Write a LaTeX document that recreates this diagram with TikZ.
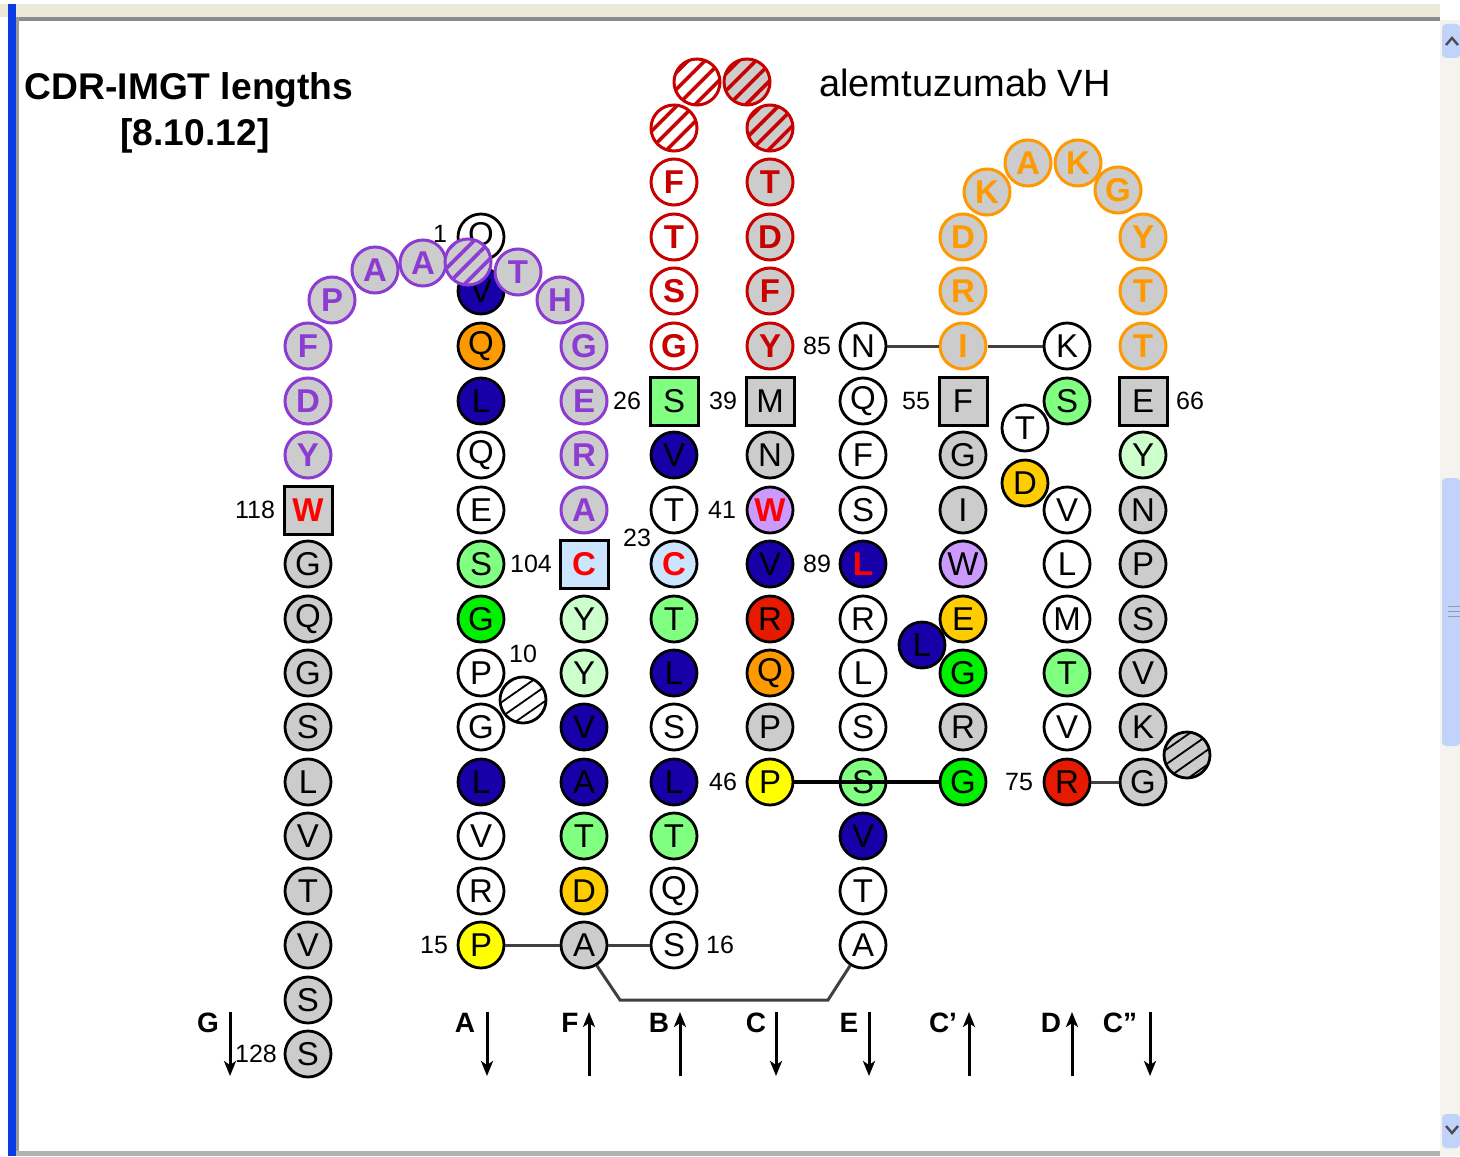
\documentclass[tikz,border=0pt]{standalone}
\usepackage{fontspec}
\setmainfont{Liberation Sans}
\usetikzlibrary{arrows.meta,patterns.meta}
\definecolor{cgray}{HTML}{CCCCCC}
\definecolor{cblue}{HTML}{1800A8}
\definecolor{corange}{HTML}{FF9900}
\definecolor{cyellow}{HTML}{FFFF00}
\definecolor{cdyellow}{HTML}{FFCC00}
\definecolor{clgreen}{HTML}{80FF80}
\definecolor{cbgreen}{HTML}{00F000}
\definecolor{cpgreen}{HTML}{CCFFCC}
\definecolor{clblue}{HTML}{CCE5FF}
\definecolor{clilac}{HTML}{CC99FF}
\definecolor{cred}{HTML}{E61A00}
\definecolor{cdrone}{HTML}{C80000}
\definecolor{cdrtwo}{HTML}{FF9900}
\definecolor{cdrthree}{HTML}{8C3CD2}
\definecolor{txtred}{HTML}{FF0000}
\definecolor{winbeige}{HTML}{ECE9D8}
\definecolor{winblue}{HTML}{0A3CE6}
\definecolor{scrollbg}{HTML}{F4F3EE}
\definecolor{scrollbtn}{HTML}{C1D3FB}
\newcommand{\redaa}[1]{\textcolor{txtred}{\bfseries #1}}
\begin{document}
\begin{tikzpicture}[x=0.5pt,y=-0.5pt,
  lf/.style={font=\fontsize{16.5}{16.5}\selectfont},
  res/.style={circle,draw=black,line width=1.4pt,minimum size=23pt,inner sep=0pt,lf},
  sq/.style={rectangle,draw=black,line width=1.5pt,minimum size=24pt,inner sep=0pt,fill=cgray,lf},
  cdrbase/.style={res,line width=1.5pt,font=\fontsize{16.5}{16.5}\selectfont\bfseries},
  cdra/.style={cdrbase,draw=cdrone,text=cdrone,fill=#1},
  cdrb/.style={cdrbase,draw=cdrtwo,text=cdrtwo,fill=cgray},
  cdrc/.style={cdrbase,draw=cdrthree,text=cdrthree,fill=cgray},
  hatch/.style n args={3}{res,draw=#1,line width=1.5pt,preaction={fill=#2},pattern={Lines[angle=45,distance=6pt,line width=1.8pt]},pattern color=#3},
  bhatch/.style={res,preaction={fill=#1},pattern={Lines[angle=35,distance=6pt,line width=0.9pt]},pattern color=black},
  num/.style={font=\fontsize{12.5}{12.5}\selectfont,inner sep=0pt},
  strand/.style={font=\fontsize{14}{14}\selectfont\bfseries,inner sep=0pt},
  lnk/.style={line width=1.5pt,draw=black!75},
  arr/.style={line width=1.5pt,-{Stealth[length=7.5pt,width=6pt,inset=2pt]}},
]
\useasboundingbox (0,0) rectangle (1460,1156);
% window frame
\fill[white] (0,0) rectangle (1460,1156);
\fill[winbeige] (0,4) rectangle (1440,17);
\fill[black!45] (16,17) rectangle (1440,21);
\fill[winblue] (8,4) rectangle (16,1156);
\fill[black!40] (16,17) rectangle (19,1156);
\fill[black!30] (16,1151) rectangle (1440,1156);
\fill[scrollbg] (1440,20) rectangle (1460,1156);
\fill[scrollbtn,rounded corners=2pt] (1442,24) rectangle (1460,58);
\fill[scrollbtn,rounded corners=2pt] (1442,478) rectangle (1460,746);
\fill[scrollbtn,rounded corners=2pt] (1442,1114) rectangle (1460,1148);
\draw[black!70,line width=1.2pt] (1446,45) -- (1452,38) -- (1458,45);
\draw[black!70,line width=1.2pt] (1446,1126) -- (1452,1133) -- (1458,1126);
\draw[black!40] (1448,606) -- (1460,606) (1448,611) -- (1460,611) (1448,616) -- (1460,616);

% titles
\node[anchor=base,font=\fontsize{18.6}{20}\selectfont\bfseries] (title1) at (189,100) {CDR-IMGT lengths};
\node[anchor=base,font=\fontsize{18.6}{20}\selectfont\bfseries] (title2) at (195,145) {[8.10.12]};
\node[anchor=base,font=\fontsize{19}{20}\selectfont] (name) at (965,97) {alemtuzumab VH};

\node[num] (n1) at (440,234) {1};

% A strand
\foreach \y/\l/\f [count=\i] in {237/Q/white,291/V/cblue,346/Q/corange,401/L/cblue,455/Q/white,510/E/white,564/S/clgreen,619/G/cbgreen,673/P/white,727/G/white,782/L/cblue,836/V/white,891/R/white,945/P/cyellow}
  \node[res,fill=\f] (A\i) at (481,\y) {\l};
\node[bhatch=white] (Ah) at (523,700) {};

% G strand
\node[sq] (G1) at (308,510) {\redaa{W}};
\foreach \y/\l [count=\i from 2] in {564/G,619/Q,673/G,727/S,782/L,836/V,891/T,945/V,1000/S,1054/S}
  \node[res,fill=cgray] (G\i) at (308,\y) {\l};

% F strand
\node[sq,fill=clblue] (F1) at (584,564) {\redaa{C}};
\foreach \y/\l/\f [count=\i from 2] in {619/Y/cpgreen,673/Y/cpgreen,727/V/cblue,782/A/cblue,836/T/clgreen,891/D/cdyellow,945/A/cgray}
  \node[res,fill=\f] (F\i) at (584,\y) {\l};

% B strand
\node[sq,fill=clgreen] (B1) at (674,401) {S};
\foreach \y/\l/\f [count=\i from 2] in {455/V/cblue,510/T/white,564/{\redaa{C}}/clblue,619/T/clgreen,673/L/cblue,727/S/white,782/L/cblue,836/T/clgreen,891/Q/white,945/S/white}
  \node[res,fill=\f] (B\i) at (674,\y) {\l};

% C strand
\node[sq] (C1) at (770,401) {M};
\foreach \y/\l/\f [count=\i from 2] in {455/N/cgray,510/{\redaa{W}}/clilac,564/V/cblue,619/R/cred,673/Q/corange,727/P/cgray,782/P/cyellow}
  \node[res,fill=\f] (C\i) at (770,\y) {\l};

% E strand
\foreach \y/\l/\f [count=\i] in {346/N/white,401/Q/white,455/F/white,510/S/white,564/{\redaa{L}}/cblue,619/R/white,673/L/white,727/S/white,782/S/clgreen,836/V/cblue,891/T/white,945/A/white}
  \node[res,fill=\f] (E\i) at (863,\y) {\l};

% C' strand
\node[res,fill=cblue] (Lx) at (922,645) {L};
\node[sq] (P1) at (963,401) {F};
\foreach \y/\l/\f [count=\i from 2] in {455/G/cgray,510/I/cgray,564/W/clilac,619/E/cdyellow,673/G/cbgreen,727/R/cgray,782/G/cbgreen}
  \node[res,fill=\f] (P\i) at (963,\y) {\l};

% D strand
\node[res] (D1) at (1067,346) {K};
\node[res,fill=clgreen] (D2) at (1067,401) {S};
\node[res] (D3) at (1025,428) {T};
\node[res,fill=cdyellow] (D4) at (1025,483) {D};
\foreach \y/\l/\f [count=\i from 5] in {510/V/white,564/L/white,619/M/white,673/T/clgreen,727/V/white,782/R/cred}
  \node[res,fill=\f] (D\i) at (1067,\y) {\l};

% C'' strand
\node[sq] (Q1) at (1143,401) {E};
\foreach \y/\l/\f [count=\i from 2] in {455/Y/cpgreen,510/N/cgray,564/P/cgray,619/S/cgray,673/V/cgray,727/K/cgray,782/G/cgray}
  \node[res,fill=\f] (Q\i) at (1143,\y) {\l};
\node[bhatch=cgray] (Qh) at (1187,755) {};

% CDR1
\foreach \y/\l [count=\i] in {346/G,291/S,237/T,182/F}
  \node[cdra=white] (R\i) at (674,\y) {\l};
\node[hatch={cdrone}{white}{cdrone}] (Rh1) at (674,128) {};
\node[hatch={cdrone}{white}{cdrone}] (Rh2) at (697,82) {};
\node[hatch={cdrone}{cgray}{cdrone}] (Rh3) at (747,82) {};
\node[hatch={cdrone}{cgray}{cdrone}] (Rh4) at (770,128) {};
\foreach \y/\l [count=\i from 5] in {182/T,237/D,291/F,346/Y}
  \node[cdra=cgray] (R\i) at (770,\y) {\l};

% CDR2
\foreach \x/\y/\l [count=\i] in {963/346/I,963/291/R,963/237/D,987/192/K,1028/163/A,1078/163/K,1118/190/G,1143/237/Y,1143/291/T,1143/346/T}
  \node[cdrb] (O\i) at (\x,\y) {\l};

% CDR3
\foreach \x/\y/\l [count=\i] in {308/346/F,308/401/D,308/455/Y,332/300/P,375/270/A,423/263/A}
  \node[cdrc] (V\i) at (\x,\y) {\l};
\node[hatch={cdrthree}{cgray}{cdrthree}] (V7) at (468,262) {};
\foreach \x/\y/\l [count=\i from 8] in {518/272/T,560/300/H,584/346/G,584/401/E,584/455/R,584/510/A}
  \node[cdrc] (V\i) at (\x,\y) {\l};

% position numbers
\node[num] (n118) at (255,510) {118};
\node[num] (n104) at (531,564) {104};
\node[num] (n10) at (523,654) {10};
\node[num] (n15) at (434,945) {15};
\node[num] (n26) at (627,401) {26};
\node[num] (n23) at (637,538) {23};
\node[num] (n16) at (720,945) {16};
\node[num] (n39) at (723,401) {39};
\node[num] (n41) at (722,510) {41};
\node[num] (n46) at (723,782) {46};
\node[num] (n85) at (817,346) {85};
\node[num] (n89) at (817,564) {89};
\node[num] (n55) at (916,401) {55};
\node[num] (n66) at (1190,401) {66};
\node[num] (n75) at (1019,782) {75};
\node[num] (n128) at (256,1054) {128};

% connectors
\draw[lnk] (E1) -- (O1);
\draw[lnk] (O1) -- (D1);
\draw[lnk] (D10) -- (Q8);
\draw[lnk] (A14) -- (F8);
\draw[lnk] (F8) -- (B11);
\coordinate (lc1) at (620,1000);
\coordinate (lc2) at (828,1000);
\draw[lnk,line join=miter] (F8.-58) -- (lc1) -- (lc2) -- (E12.-122);
\draw[line width=1.6pt,black] (C8) -- (P8);

% strand direction arrows
\foreach \nm/\lab/\lx/\ax in {g/G/208/230,a/A/465/487,f/F/570/589,b/B/659/680,c/C/756/776,e/E/849/869,cp/{C'}/943/969,d/D/1051/1072,cpp/{C''}/1120/1150}{
  \node[strand] (s\nm) at (\lx,1023) {\lab};
  \coordinate (t\nm) at (\ax,1012);
  \coordinate (b\nm) at (\ax,1076);
}
\draw[arr] (tg) -- (bg);
\draw[arr] (ta) -- (ba);
\draw[arr] (bf) -- (tf);
\draw[arr] (bb) -- (tb);
\draw[arr] (tc) -- (bc);
\draw[arr] (te) -- (be);
\draw[arr] (bcp) -- (tcp);
\draw[arr] (bd) -- (td);
\draw[arr] (tcpp) -- (bcpp);
\end{tikzpicture}
\end{document}
